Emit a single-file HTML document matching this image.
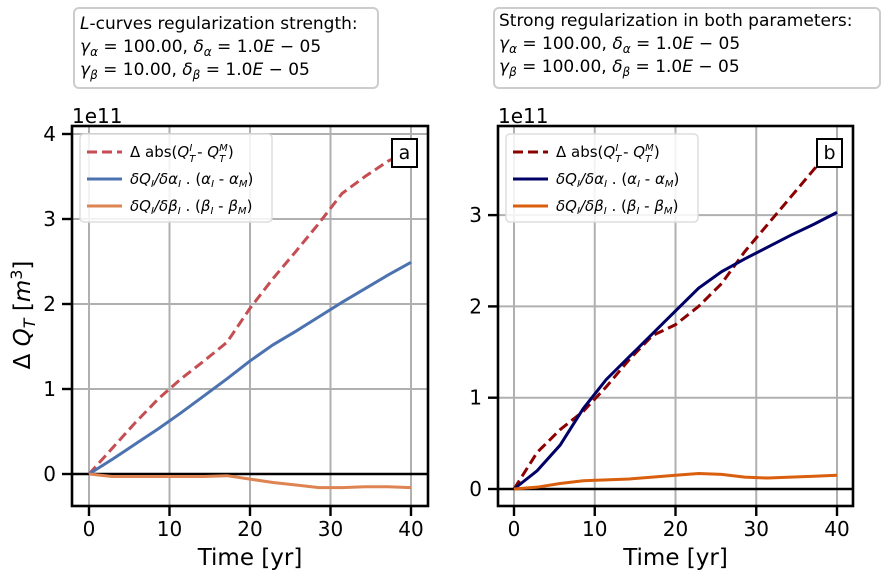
<!DOCTYPE html>
<html><head><meta charset="utf-8"><style>
body{margin:0;background:#fff;}
svg{font-family:"DejaVu Sans","Liberation Sans",sans-serif;}
</style></head><body>
<svg id="c" width="888" height="578" viewBox="0 0 888 578" xmlns="http://www.w3.org/2000/svg">
<g>
<rect x="74" y="8" width="304" height="80" rx="5" fill="#fff" stroke="#ccc" stroke-width="2"/>
<text x="80" y="29" font-size="17"><tspan font-style="italic">L</tspan>-curves regularization strength:</text>
<text x="80" y="52" font-size="17"><tspan font-style="italic">γ</tspan><tspan font-size="12" dy="4" font-style="italic">α</tspan><tspan dy="-4"> = 100.00, </tspan><tspan font-style="italic">δ</tspan><tspan font-size="12" dy="4" font-style="italic">α</tspan><tspan dy="-4"> = 1.0</tspan><tspan font-style="italic">E</tspan> − 05</text>
<text x="80" y="75" font-size="17"><tspan font-style="italic">γ</tspan><tspan font-size="12" dy="4" font-style="italic">β</tspan><tspan dy="-4"> = 10.00, </tspan><tspan font-style="italic">δ</tspan><tspan font-size="12" dy="4" font-style="italic">β</tspan><tspan dy="-4"> = 1.0</tspan><tspan font-style="italic">E</tspan> − 05</text>
</g>
<g>
<rect x="494" y="8" width="386" height="80" rx="5" fill="#fff" stroke="#ccc" stroke-width="2"/>
<text x="499" y="26" font-size="17">Strong regularization in both parameters:</text>
<text x="499" y="49" font-size="17"><tspan font-style="italic">γ</tspan><tspan font-size="12" dy="4" font-style="italic">α</tspan><tspan dy="-4"> = 100.00, </tspan><tspan font-style="italic">δ</tspan><tspan font-size="12" dy="4" font-style="italic">α</tspan><tspan dy="-4"> = 1.0</tspan><tspan font-style="italic">E</tspan> − 05</text>
<text x="499" y="72" font-size="17"><tspan font-style="italic">γ</tspan><tspan font-size="12" dy="4" font-style="italic">β</tspan><tspan dy="-4"> = 100.00, </tspan><tspan font-style="italic">δ</tspan><tspan font-size="12" dy="4" font-style="italic">β</tspan><tspan dy="-4"> = 1.0</tspan><tspan font-style="italic">E</tspan> − 05</text>
</g>
<text x="30" y="315" font-size="23" transform="rotate(-90 30 315)" text-anchor="middle">Δ <tspan font-style="italic">Q</tspan><tspan font-size="16" dy="5" font-style="italic">T</tspan><tspan dy="-5"> [</tspan><tspan font-style="italic">m</tspan><tspan font-size="16" dy="-8">3</tspan><tspan dy="8">]</tspan></text>
<g id="pa"></g><g id="pb"></g>
</svg>
<script>
const years = [0,2.86,5.71,8.57,11.43,14.29,17.14,20,22.86,25.71,28.57,31.43,34.29,37.14,40];
const aDiff = [0,0.3,0.6,0.88,1.12,1.33,1.55,1.95,2.3,2.62,2.95,3.3,3.5,3.68,3.82];
const aAlpha = [0,0.17,0.35,0.53,0.72,0.92,1.12,1.33,1.52,1.68,1.85,2.02,2.18,2.34,2.49];
const aBeta = [0,-0.03,-0.03,-0.03,-0.03,-0.03,-0.02,-0.06,-0.1,-0.13,-0.16,-0.16,-0.15,-0.15,-0.16];
const bDiff = [0,0.4,0.65,0.85,1.12,1.42,1.68,1.8,2.0,2.25,2.6,2.9,3.2,3.5,3.8];
const bAlpha = [0,0.2,0.48,0.88,1.2,1.45,1.7,1.95,2.2,2.38,2.52,2.65,2.78,2.9,3.03];
const bBeta = [0,0.02,0.06,0.09,0.1,0.11,0.13,0.15,0.17,0.16,0.13,0.12,0.13,0.14,0.15];
const xTicks = [0,10,20,30,40];
const yTicksA = [0,1,2,3,4];
const yTicksB = [0,1,2,3];
const NS="http://www.w3.org/2000/svg";
function mk(p,t,a){const e=document.createElementNS(NS,t);for(const k in a)e.setAttribute(k,a[k]);p.appendChild(e);return e;}
function panel(g,L,R,T,B,x0,x40,y0,ppu,yt,series,label,cols){
  const sx=v=>x0+(x40-x0)*v/40, sy=v=>y0-ppu*v;
  xTicks.forEach(v=>{const l=mk(g,'line',{x1:sx(v),x2:sx(v),y1:T,y2:B,stroke:'#b0b0b0','stroke-width':2});
    });
  yt.forEach(v=>{const l=mk(g,'line',{x1:L,x2:R,y1:sy(v),y2:sy(v),stroke:'#b0b0b0','stroke-width':2});
    });
  mk(g,'line',{x1:L,x2:R,y1:sy(0),y2:sy(0),stroke:'#000','stroke-width':2.4});
  series.forEach((s,i)=>{const p=mk(g,'polyline',{points:years.map((t,j)=>sx(t)+','+sy(s[j])).join(' '),fill:'none',stroke:cols[i],'stroke-width':3,'stroke-dasharray':i==0?'10,5':'none'});
    
    });
  mk(g,'rect',{x:L,y:T,width:R-L,height:B-T,fill:'none',stroke:'#000','stroke-width':2.6});
  xTicks.forEach(v=>{mk(g,'line',{x1:sx(v),x2:sx(v),y1:B,y2:B+10,stroke:'#000','stroke-width':2.4});
    const t=mk(g,'text',{x:sx(v),y:B+30,'font-size':20,'text-anchor':'middle'});t.textContent=v;
    });
  yt.forEach(v=>{mk(g,'line',{x1:L-10,x2:L,y1:sy(v),y2:sy(v),stroke:'#000','stroke-width':2.4});
    const t=mk(g,'text',{x:L-16,y:sy(v)+7,'font-size':20,'text-anchor':'end'});t.textContent=v;
    });
  const e=mk(g,'text',{x:L,y:T-3,'font-size':20});e.textContent='1e11';
  const xl=mk(g,'text',{x:(L+R)/2,y:565,'font-size':23,'text-anchor':'middle'});xl.textContent='Time [yr]';
  
  const lg=mk(g,'g',{});
  mk(lg,'rect',{x:L+8,y:T+8,width:192,height:88,rx:4,fill:'#fff','fill-opacity':0.85,stroke:'#ddd','stroke-width':1.5});
  const labs=['Δ abs(<tspan font-style="italic">Q</tspan><tspan font-size="10" dy="5" font-style="italic">T</tspan><tspan font-size="10" dy="-11" dx="-6" font-style="italic">I</tspan><tspan dy="6"> - </tspan><tspan font-style="italic">Q</tspan><tspan font-size="10" dy="5" font-style="italic">T</tspan><tspan font-size="10" dy="-11" dx="-6" font-style="italic">M</tspan><tspan dy="6">)</tspan>',
   '<tspan font-style="italic">δQ</tspan><tspan font-size="10" dy="3" font-style="italic">I</tspan><tspan dy="-3" font-style="italic">/δα</tspan><tspan font-size="10" dy="3" font-style="italic">I</tspan><tspan dy="-3"> . (</tspan><tspan font-style="italic">α</tspan><tspan font-size="10" dy="3" font-style="italic">I</tspan><tspan dy="-3"> - </tspan><tspan font-style="italic">α</tspan><tspan font-size="10" dy="3" font-style="italic">M</tspan><tspan dy="-3">)</tspan>',
   '<tspan font-style="italic">δQ</tspan><tspan font-size="10" dy="3" font-style="italic">I</tspan><tspan dy="-3" font-style="italic">/δβ</tspan><tspan font-size="10" dy="3" font-style="italic">I</tspan><tspan dy="-3"> . (</tspan><tspan font-style="italic">β</tspan><tspan font-size="10" dy="3" font-style="italic">I</tspan><tspan dy="-3"> - </tspan><tspan font-style="italic">β</tspan><tspan font-size="10" dy="3" font-style="italic">M</tspan><tspan dy="-3">)</tspan>'];
  labs.forEach((h,i)=>{const y=T+26+i*27;
    mk(lg,'line',{x1:L+15,x2:L+50,y1:y,y2:y,stroke:cols[i],'stroke-width':3,'stroke-dasharray':i==0?'10,5':'none'});
    const t=mk(lg,'text',{x:L+58,y:y+5,'font-size':15});t.innerHTML=h;
    });
  const bx=mk(g,'g',{});
  mk(bx,'rect',{x:R-36,y:T+13,width:25,height:28,fill:'#fff',stroke:'#000','stroke-width':2});
  const tl=mk(bx,'text',{x:R-23.5,y:T+33,'font-size':19,'text-anchor':'middle'});tl.textContent=label;
}
const pa=document.getElementById('pa');


const pb=document.getElementById('pb');


panel(pa,72,428,126,506,89,411,474,85,yTicksA,[aDiff,aAlpha,aBeta],'a',['#c44e52','#4c72b0','#dd8452']);
panel(pb,498,853,126,506,514,837,489,91.3,yTicksB,[bDiff,bAlpha,bBeta],'b',['#8b0000','#000066','#d95f0e']);
</script>
</body></html>
